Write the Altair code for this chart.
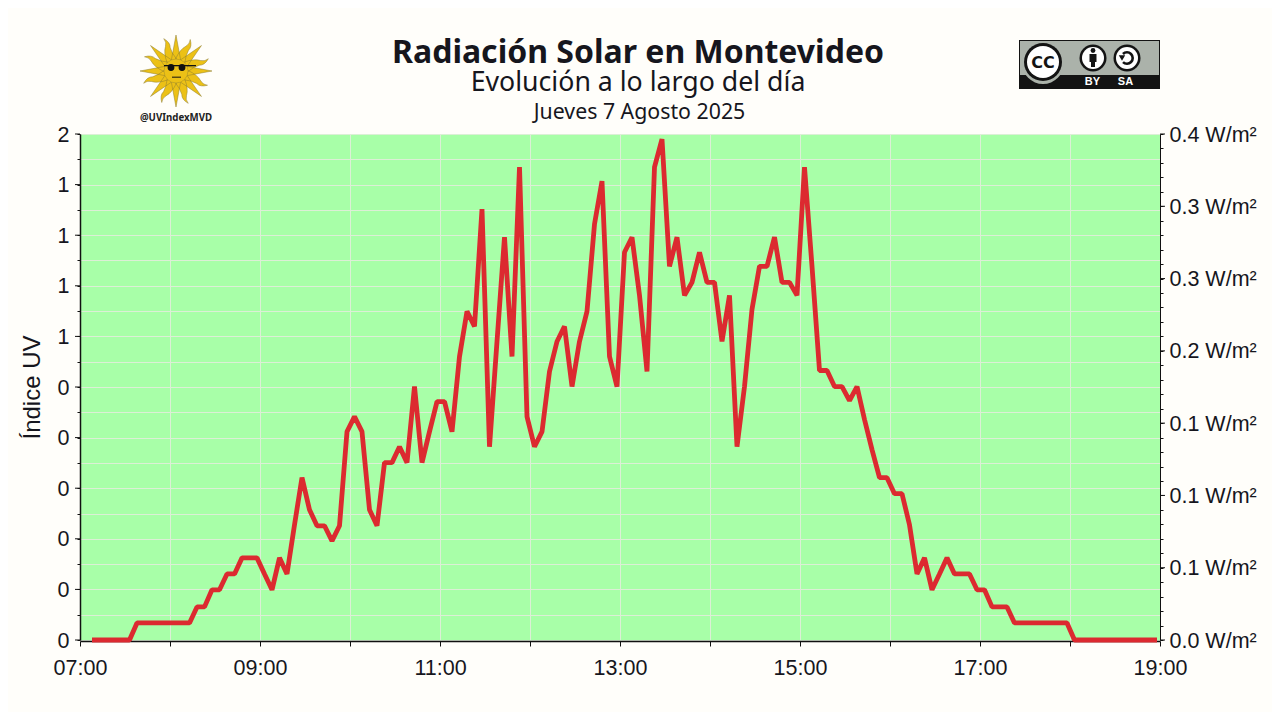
import math
import altair as alt
import pandas as pd

START_MINUTE = 428  # 07:08
STEP_MINUTES = 5
RADIATION = [
    0, 0, 0, 0, 0, 0,
    .0118, .0118, .0118, .0118, .0118, .0118, .0118, .0118,
    .0229, .0229, .0347, .0347, .0457, .0457, .0568, .0568, .0568,
    .0457, .0347, .0568, .0457, .0797, .1123, .0901, .0790, .0790,
    .0686, .0790, .1441, .1545, .1441, .0901, .0790, .1227, .1227,
    .1337, .1227, .1753, .1227, .1441, .1649, .1649, .1441, .1961,
    .2273, .2169, .2980, .1337, .2065, .2786, .1961, .3271, .1545,
    .1337, .1441, .1857, .2065, .2169, .1753, .2065, .2273, .2876,
    .3174, .1961, .1753, .2682, .2786, .2384, .1857, .3271, .3465,
    .2585, .2786, .2384, .2474, .2682, .2474, .2474, .2065, .2384,
    .1337, .1753, .2287, .2585, .2585, .2786, .2474, .2474, .2384,
    .3271, .2585, .1864, .1864, .1753, .1753, .1656, .1753, .1525,
    .1317, .1123, .1123, .1012, .1012, .0797, .0457, .0568, .0347,
    .0457, .0568, .0457, .0457, .0457, .0347, .0347, .0229, .0229,
    .0229, .0118, .0118, .0118, .0118, .0118, .0118, .0118, .0118,
    0, 0, 0, 0, 0, 0, 0, 0, 0, 0, 0, 0,
]
UV_LABELS = ["0", "0", "0", "0", "0", "0", "1", "1", "1", "1", "2"]
WM2_LABELS = ["0.0 W/m²", "0.1 W/m²", "0.1 W/m²", "0.1 W/m²",
              "0.2 W/m²", "0.3 W/m²", "0.3 W/m²", "0.4 W/m²"]
HOUR_LABELS = ["07:00", "", "09:00", "", "11:00", "", "13:00", "", "15:00", "", "17:00", "", "19:00"]
TITLE = "Radiación Solar en Montevideo"
SUBTITLE = "Evolución a lo largo del día"
DATE_TEXT = "Jueves 7 Agosto 2025"

df = pd.DataFrame({"m": [START_MINUTE + i * STEP_MINUTES for i in range(len(RADIATION))], "r": RADIATION})

BG = "#fffefa"
PLOT_L, PLOT_T, W, H = 80, 134, 1080, 506
INK = "#16161d"
TICK_FONT = "Liberation Sans"
TICK_SIZE = 21.5
GRID = "#dcefd6"
ONE = alt.Data(values=[{"k": 1}])
Y_SCALE = alt.Scale(domain=[0, 0.35], nice=False)

def px(x): return alt.value(x - PLOT_L)
def py(y): return alt.value(y - PLOT_T)

def rect(x0, y0, x1, y1, color):
    return alt.Chart(ONE).mark_rect(color=color).encode(
        x=px(x0), x2=px(x1), y=py(y0), y2=py(y1))

def dot(x, y, r, color, stroke=None, sw=0.0, shape="circle"):
    kw = {"stroke": stroke, "strokeWidth": sw} if stroke else {"strokeWidth": 0}
    return alt.Chart(ONE).mark_point(
        filled=True, fill=color, opacity=1, shape=shape, **kw
    ).encode(x=px(x), y=py(y), size=alt.value((2 * r) ** 2))

def label(txt, x, y, size, color=INK, weight="normal", font="Noto Sans"):
    return alt.Chart(ONE).mark_text(
        text=txt, fontSize=size, color=color, fontWeight=weight, font=font,
        align="center", baseline="middle").encode(x=px(x), y=py(y))

def sun_path():
    parts = []
    for i in range(16):
        a = i * math.pi / 8 - math.pi / 2
        ca, sa = math.cos(a), math.sin(a)
        def pt(r, off):
            return f"{r*ca - off*sa:.3f},{r*sa + off*ca:.3f}"
        if i % 2 == 0:
            parts.append(f"M{pt(.30,-.13)}L{pt(1,0)}L{pt(.30,.13)}Z")
        else:
            parts.append(
                f"M{pt(.30,-.14)}Q{pt(.60,-.13)} {pt(.74,-.01)}"
                f"Q{pt(.84,.07)} {pt(.96,.03)}Q{pt(.80,.16)} {pt(.66,.10)}"
                f"Q{pt(.50,.08)} {pt(.30,.14)}Z")
    return "".join(parts)

sun = [
    dot(176, 71, 36, "#ecc116", "#8d7d2e", 0.5, shape=sun_path()),
    dot(176, 71, 12, "#ecc116", "#a8922a", 0.5),
    rect(164, 65, 196, 66.3, "#111111"),
    dot(171, 67.5, 3.4, "#111111"),
    dot(182, 67.5, 3.4, "#111111"),
    rect(172, 76.5, 181, 78, "#5a4a10"),
    label("@UVIndexMVD", 176, 118, 9.7, "#222222", "bold"),
]

cc = [
    rect(1019, 40, 1160, 89, "#131313"),
    rect(1020, 41, 1159, 75, "#abb2aa"),
    dot(1043, 63, 21, "#abb2aa"),
    dot(1043, 62, 19, "#131313"),
    dot(1043, 62, 16, "#ffffff"),
    label("CC", 1043, 62.5, 16, "#131313", "bold", "DejaVu Sans"),
    dot(1093, 58, 13.5, "#131313"),
    dot(1093, 58, 11, "#ffffff"),
    dot(1093, 50.5, 2.4, "#131313"),
    rect(1089.5, 54, 1096.5, 62, "#131313"),
    rect(1091, 62, 1095, 67, "#131313"),
    dot(1127, 58, 13.5, "#131313"),
    dot(1127, 58, 11, "#ffffff"),
    alt.Chart(ONE).mark_arc(radius=7, radius2=4.4, theta=5.5, theta2=10.2, color="#131313")
        .encode(x=px(1127), y=py(58)),
    dot(1122, 58, 3.2, "#131313", shape="triangle-down"),
    label("BY", 1092.5, 82, 11, "#ffffff", "bold", "Liberation Sans"),
    label("SA", 1125.5, 82, 11, "#ffffff", "bold", "Liberation Sans"),
]

x = alt.X("m:Q", scale=alt.Scale(domain=[420, 1140], nice=False),
          axis=alt.Axis(
              title=None, offset=1, grid=True, gridColor=GRID, gridWidth=1,
              values=[420 + 60 * i for i in range(13)],
              labelExpr=str(HOUR_LABELS) + "[round((datum.value - 420) / 60)]",
              labelFont=TICK_FONT, labelFontSize=TICK_SIZE, labelColor=INK, labelPadding=11,
              labelOverlap=False, labelFlush=False, tickColor="#111111", domainColor="#111111",
              tickSize=5, tickWidth=1, domainWidth=1.5))

uv_vals = [round(i * 0.0175, 4) for i in range(21)]
uv_expr = ("round(datum.value / 0.0175) % 2 == 0 ? "
           + str(UV_LABELS) + "[round(datum.value / 0.035)] : ''")
y_left = alt.Y("r:Q", scale=Y_SCALE,
               axis=alt.Axis(
                   title="Índice UV", values=uv_vals, labelExpr=uv_expr,
                   grid=True, gridColor=GRID, gridWidth=1,
                   labelFont=TICK_FONT, labelFontSize=TICK_SIZE, labelColor=INK, labelPadding=8,
                   labelOffset=1,
                   labelOverlap=False, labelFlush=False, labelBound=False,
                   tickSize=3,
                   tickColor="#111111", domainColor="#111111", domainWidth=1.5,
                   titleFont=TICK_FONT, titleFontSize=24, titleFontWeight="normal",
                   titleColor=INK, titleX=-36, titleY=253))

r_vals = [round(i * 0.01, 2) for i in range(36)]
r_expr = ("round(datum.value * 100) % 5 == 0 ? "
          + str(WM2_LABELS) + "[round(datum.value / 0.05)] : ''")
y_right = alt.Y("r:Q", scale=Y_SCALE,
                axis=alt.Axis(
                    title=None, orient="right", values=r_vals, labelExpr=r_expr, grid=False,
                    labelFont=TICK_FONT, labelFontSize=TICK_SIZE, labelColor=INK, labelPadding=6,
                    labelOffset=1,
                    labelOverlap=False, labelFlush=False, labelBound=False,
                    tickSize=3,
                    tickColor="#111111", domainColor="#111111", domainWidth=1))

maj_left = pd.DataFrame({"v": [round(i * 0.035, 4) for i in range(11)]})
maj_right = pd.DataFrame({"v": [round(i * 0.05, 2) for i in range(8)]})
tick_l = alt.Chart(maj_left).mark_rule(color="#111111", strokeWidth=1).encode(
    x=alt.value(-5), x2=alt.value(0), y=alt.Y("v:Q", scale=Y_SCALE, axis=None))
tick_r = alt.Chart(maj_right).mark_rule(color="#111111", strokeWidth=1).encode(
    x=alt.value(W), x2=alt.value(W + 5), y=alt.Y("v:Q", scale=Y_SCALE, axis=None))

base = alt.Chart(df)
line = base.mark_line(color="#dc2a30", strokeWidth=4.8, strokeJoin="bevel").encode(x=x, y=y_left)
right = base.mark_line(opacity=0).encode(x=x, y=y_right)

date_text = label(DATE_TEXT, 639.5, 113, 21.3)

chart = alt.layer(line, right, tick_l, tick_r, date_text, *sun, *cc).resolve_scale(y="independent").properties(
    width=W, height=H,
    padding={"left": PLOT_L - 8, "top": PLOT_T - 8, "right": 112, "bottom": 72},
    autosize=alt.AutoSizeParams(type="none"),
    background=BG,
    title=alt.TitleParams(
        text=TITLE, subtitle=[SUBTITLE], anchor="middle", dx=18, offset=-64,
        font="Noto Sans", fontSize=32, fontWeight="bold", color=INK,
        subtitleFont="Noto Sans", subtitleFontSize=26.7, subtitleColor=INK,
        subtitlePadding=0),
).configure_view(fill="#a8ffa8", stroke=None)

chart.save("out.html", embed_options={"renderer": "svg", "actions": False})
